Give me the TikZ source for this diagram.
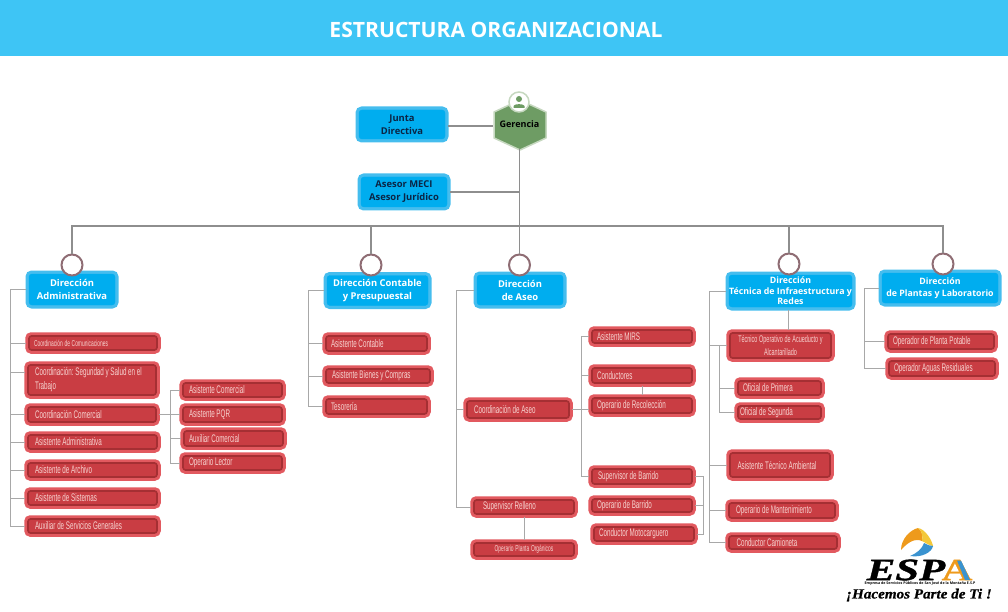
\documentclass[tikz,border=0pt]{standalone}
\usepackage{fontspec}
\usepackage{xcolor}
\usetikzlibrary{calc, positioning}
\setmainfont{Open Sans}
\newfontfamily\narrowfont[FakeStretch=0.57]{Liberation Sans}
\newfontfamily\logofont[FakeStretch=1.38, FakeBold=1.2]{Liberation Serif}
\newfontfamily\frasefont[FakeStretch=1.08, FakeBold=0.6]{Liberation Serif}
\definecolor{band}{HTML}{3EC5F5}
\definecolor{bluefill}{HTML}{00ADEF}
\definecolor{bluerim}{HTML}{45BDEE}
\definecolor{navy}{HTML}{0B2545}
\definecolor{redfill}{HTML}{C93D43}
\definecolor{redrim}{HTML}{E2595F}
\definecolor{reddark}{HTML}{A52F33}
\definecolor{redtext}{HTML}{F6D3D0}
\definecolor{hexfill}{HTML}{6E9C64}
\definecolor{hexrim}{HTML}{C6D8C0}
\definecolor{ringc}{HTML}{8F6D74}
\definecolor{linec}{HTML}{8E8E8E}
\definecolor{railc}{HTML}{A8A8A8}
\definecolor{logoor}{HTML}{EE9A1C}
\definecolor{logoye}{HTML}{F3C83A}
\definecolor{logobl}{HTML}{3A93D0}
\begin{document}
\begin{tikzpicture}[x=1pt, y=-1pt]
		\tikzset{rbox/.style 2 args={draw=reddark, line width=1.6pt, fill=redfill, rounded corners=2.5pt, preaction={draw=redrim, line width=7.5pt}, outer sep=3pt, inner xsep=5pt, inner ysep=0pt, minimum height=#2, text width=#1*1pt-10pt, align=left, text=redtext, font=\narrowfont\fontsize{11}{16}\selectfont, execute at begin node={\spaceskip=1.7pt\relax\xspaceskip=1.7pt\relax\hyphenpenalty=10000\relax}}}
		\tikzset{bbox/.style 2 args={fill=bluefill, draw=bluefill, rounded corners=3pt, preaction={draw=bluerim, line width=7pt}, outer sep=3pt, inner sep=0pt, minimum width=#1, minimum height=#2, align=center, font=\bfseries\fontsize{9.4}{13}\selectfont}}
		\tikzstyle{ring} = [draw=ringc, line width=2pt, fill=white, circle, minimum size=21, inner sep=0pt]
		\tikzstyle{bar} = [draw=linec, line width=1.8pt]
		\tikzstyle{rail} = [draw=railc, line width=1pt]
		
		\useasboundingbox (0, 0) rectangle (1008, 612);
		\fill[band] (0, 0) rectangle (1008, 56);
		\node[text=white, font=\bfseries\fontsize{21.1}{24}\selectfont] at (496, 30) (title) {ESTRUCTURA ORGANIZACIONAL};
		
		\draw[hexrim, fill=hexfill, line width=1.5pt, line join=round] (520, 100) -- (546, 112) -- (546, 138) -- (520, 150) -- (494, 138) -- (494, 112) -- cycle;
		\node[minimum width=52, minimum height=50, inner sep=0pt, font=\bfseries\fontsize{9}{12}\selectfont] at (519.5, 124) (ger) {Gerencia};
		\node[circle, fill=white, draw=hexrim, line width=1.5pt, minimum size=20, inner sep=0pt] at (519, 102) (ico) {};
		\fill[hexfill] (519, 99) circle (3);
		\fill[hexfill] (513.5, 108) -- (513.5, 106) .. controls (514, 103.5) and (524, 103.5) .. (524.5, 106) -- (524.5, 108) -- cycle;
		
		\node[bbox={86}{29}, text=navy] at (402, 124.5) (jun) {Junta\\Directiva};
		\node[bbox={86}{30}, text=navy] at (404, 192) (ase) {Asesor MECI\\Asesor Jurídico};
		
		\node[bbox={86}{31}, text=white] at (72, 289.5) (dadm) {Dirección\\Administrativa};
		\node[bbox={101}{30}, text=white] at (377.5, 290.5) (dcon) {Dirección Contable\\y Presupuestal};
		\node[bbox={86}{30}, text=white] at (520, 290) (dase) {Dirección\\de Aseo};
		\node[bbox={123}{32}, text=white, font=\bfseries\fontsize{8.8}{10.5}\selectfont] at (790.5, 291) (dtec) {Dirección\\Técnica de Infraestructura y\\Redes};
		\node[bbox={116}{30}, text=white, font=\bfseries\fontsize{8.8}{12}\selectfont] at (940, 288) (dpla) {Dirección\\de Plantas y Laboratorio};
		
		\node[ring] at (72, 265) (cadm) {};
		\node[ring] at (371, 265) (ccon) {};
		\node[ring] at (519.5, 265) (case) {};
		\node[ring] at (789, 264) (ctec) {};
		\node[ring] at (943, 264) (cpla) {};
		
		\node[rbox={128}{14}, font=\narrowfont\fontsize{8.6}{10}\selectfont] at (93, 343) (com) {Coordinación de Comunicaciones};
		\node[rbox={128}{30}, font=\narrowfont\fontsize{11}{14}\selectfont] at (92, 380) (sst) {\hspace*{2pt}Coordinación: Seguridad y Salud en el\\\hspace*{2pt}Trabajo};
		\node[rbox={128}{15}] at (92, 414.5) (cco) {\hspace*{2pt}Coordinación Comercial};
		\node[rbox={129}{14}] at (92.5, 442) (aad) {\hspace*{2pt}Asistente Administrativa};
		\node[rbox={129}{14}] at (92.5, 470) (arc) {\hspace*{2pt}Asistente de Archivo};
		\node[rbox={129}{14}] at (92.5, 498) (sis) {\hspace*{2pt}Asistente de Sistemas};
		\node[rbox={129}{14}] at (92.5, 526) (aux) {\hspace*{2pt}Auxiliar de Servicios Generales};
		
		\node[rbox={99}{14}] at (232.5, 390) (aco) {\hspace*{1pt}Asistente Comercial};
		\node[rbox={99}{15}] at (232.5, 414.5) (pqr) {\hspace*{1pt}Asistente PQR};
		\node[rbox={99}{15}] at (233.5, 438.5) (acm) {Auxiliar Comercial};
		\node[rbox={99}{14}] at (232.5, 463) (lec) {\hspace*{1pt}Operario Lector};
		
		\node[rbox={101}{15}] at (376.5, 343.5) (asc) {Asistente Contable};
		\node[rbox={104}{14}] at (378, 376) (bie) {\hspace*{1pt}Asistente Bienes y Compras};
		\node[rbox={101}{15}] at (376.5, 406.5) (tes) {Tesorería};
		
		\node[rbox={102}{17}] at (518, 409.5) (cas) {\hspace*{2pt}Coordinación de Aseo};
		\node[rbox={100}{14}] at (524, 507) (sre) {\hspace*{4pt}Supervisor Relleno};
		\node[rbox={100}{13}, align=center, font=\narrowfont\fontsize{8.6}{10}\selectfont] at (524, 549.5) (opl) {Operario Planta Orgánicos};
		
		\node[rbox={100}{13}] at (642, 336.5) (mir) {Asistente MIRS};
		\node[rbox={100}{15}] at (642, 375.5) (cdt) {Conductores};
		\node[rbox={100}{15}] at (642, 405.5) (rec) {Operario de Recolección};
		\node[rbox={100}{15}] at (642, 476.5) (sba) {\hspace*{1pt}Supervisor de Barrido};
		\node[rbox={100}{13}] at (642, 505.5) (oba) {Operario de Barrido};
		\node[rbox={100}{14}] at (644, 534) (mot) {Conductor Motocarguero};
		
		\node[rbox={101}{25}, align=center, font=\narrowfont\fontsize{9.6}{13}\selectfont] at (780.5, 345.5) (tec) {Técnico Operativo de Acueducto y\\Alcantarillado};
		\node[rbox={83}{14}] at (779.5, 388) (pri) {Oficial de Primera};
		\node[rbox={83}{13}] at (779.5, 412.5) (sgd) {\hspace*{-3pt}Oficial de Segunda};
		\node[rbox={100}{24}] at (780, 465) (amb) {\hspace*{2.5pt}Asistente Técnico Ambiental};
		\node[rbox={106}{15}] at (782, 510.5) (man) {\hspace*{2pt}Operario de Mantenimiento};
		\node[rbox={108}{13}] at (783, 542.5) (cam) {\hspace*{2.5pt}Conductor Camioneta};
		
		\node[rbox={106}{15}] at (941, 341.5) (pot) {Operador de Planta Potable};
		\node[rbox={106}{15}] at (942, 368.5) (res) {Operador Aguas Residuales};
		
		\coordinate (cruce) at (519.5, 226);
		\path[bar]
		(ger.south) edge (case.north);
		\draw[bar] ([yshift=-1.5pt]jun.east) -- ([yshift=-1.5pt]jun.east -| ger.west);
		\draw[bar, line width=1.2pt] (ase.east) -- (ase.east -| ger.south);
		\foreach \dir in {cadm, ccon, ctec, cpla}
			\draw[bar] (cruce) -| (\dir.north);
		
		\foreach \sub in {com, cco, aad, arc, sis, aux}
			\draw[rail] (dadm.west) -- ++(-16, 0) |- (\sub.west);
		\draw[rail] (dadm.west) -- ++(-16, 0) |- ([yshift=8pt]sst.west);
		\foreach \sub in {aco, pqr, acm, lec}
			\draw[rail] (cco.east) -- ++(11, 0) |- (\sub.west);
		\foreach \sub in {asc, bie, tes}
			\draw[rail] (dcon.west) -- ++(-16, 0) |- (\sub.west);
		\foreach \sub in {cas, sre}
			\draw[rail] (dase.west) -- ++(-18, 0) |- (\sub.west);
		\draw[rail] (sre.south) -- (opl.north);
		\foreach \sub in {mir, cdt, sba}
			\draw[rail] (cas.east) -- ++(9, 0) |- (\sub.west);
		\draw[rail] (cas.east) -- (cas.east -| rec.west);
		\draw[rail] (cdt.south) -- (rec.north);
		\foreach \sub in {oba, mot}
			\draw[rail] (sba.east) -- ++(8, 0) |- (\sub.east);
		\foreach \sub in {tec, amb, man, cam}
			\draw[rail] (dtec.west) -- ++(-17, 0) |- (\sub.west);
		\draw[rail] ([xshift=-2.5pt]dtec.south) -- ([xshift=7.5pt]tec.north);
		\foreach \sub in {pri, sgd}
			\draw[rail] (tec.west) -- ++(-8, 0) |- (\sub.west);
		\foreach \sub in {pot, res}
			\draw[rail] (dpla.west) -- ++(-15, 0) |- (\sub.west);
		
		\fill[logoor] (901, 550) .. controls (901, 539) and (910, 530) .. (918, 528) .. controls (922, 531) and (923, 536) .. (922, 541) .. controls (915, 538) and (908, 542) .. (901, 550) -- cycle;
		\fill[logoye] (918, 528) .. controls (925, 529) and (932, 540) .. (933, 546) .. controls (930, 546) and (926, 543) .. (922, 541) .. controls (923, 536) and (922, 531) .. (918, 528) -- cycle;
		\fill[logobl] (933, 546) .. controls (932, 552) and (922, 558) .. (910, 556) .. controls (917, 553) and (922, 549) .. (924, 543) .. controls (928, 545) and (930, 546) .. (933, 546) -- cycle;
		\node[text=black, inner sep=0pt, font=\logofont\bfseries\itshape\fontsize{31}{31}\selectfont] at (906, 570) (esp) {ESP};
		\node[text=logoor, inner sep=0pt, font=\logofont\bfseries\fontsize{31}{31}\selectfont] at (957, 570) (leta) {A};
		\fill[logobl] (957, 560.5) -- (961, 560.5) -- (970, 580) -- (965, 580) -- cycle;
		\node[text=black, inner sep=0pt, font=\bfseries\fontsize{3.6}{4}\selectfont] at (920, 583.5) (lema) {Empresa de Servicios Públicos de San José de la Montaña E.S.P};
		\node[text=black, inner sep=0pt, font=\frasefont\bfseries\itshape\fontsize{14}{14}\selectfont] at (919, 595) (frase) {¡Hacemos Parte de Ti !};
	\end{tikzpicture}
\end{document}
